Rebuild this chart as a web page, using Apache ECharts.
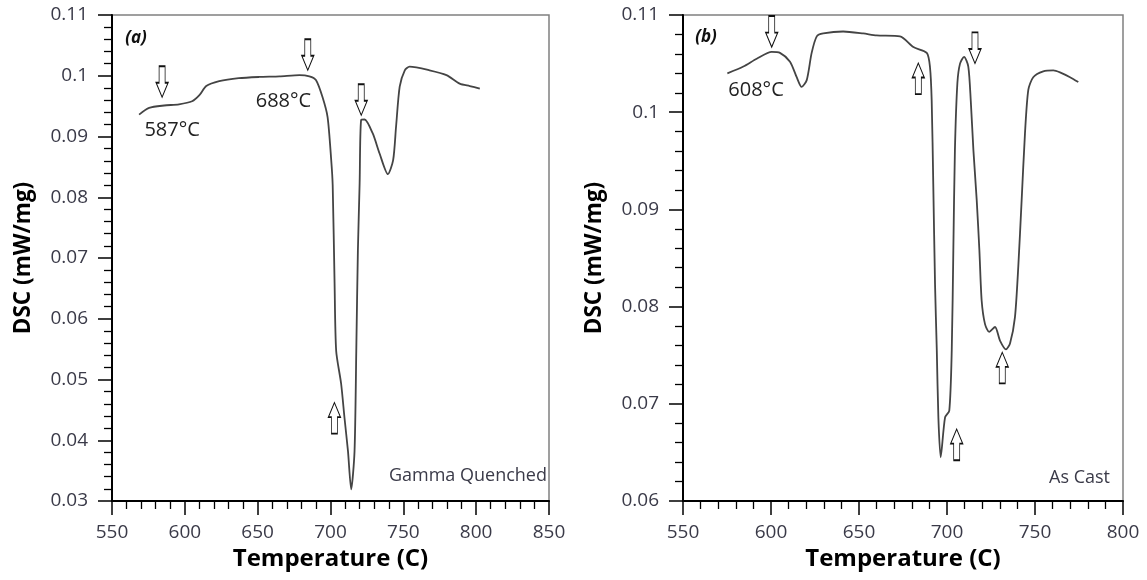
<!DOCTYPE html>
<html>
<head>
<meta charset="utf-8">
<script src="https://cdn.jsdelivr.net/npm/echarts@6/dist/echarts.min.js"></script>
<style>html,body{margin:0;padding:0;background:#fff;}#c{width:1147px;height:580px;}</style>
</head>
<body>
<div id="c"></div>
<script>
// Panel (a) Gamma Quenched
var tempA = [568.6, 575.5, 585.8, 596, 605, 610, 614.7, 623.6, 637, 651, 665, 678.7, 685.5, 690, 694.5, 698, 700.5, 701.5, 702.8, 703.9, 707.3, 709.6, 712, 714.2, 716.5, 717.7, 718.8, 720, 721, 723.4, 729, 733.7, 739.4, 743, 745, 747.5, 751, 754.3, 768, 779.6, 788.7, 795.6, 802.5];
var dscA = [0.0936, 0.0947, 0.0951, 0.0953, 0.0958, 0.0968, 0.0983, 0.0991, 0.0996, 0.0998, 0.0999, 0.1001, 0.0999, 0.0993, 0.0965, 0.0932, 0.0861, 0.082, 0.0658, 0.0547, 0.0493, 0.0437, 0.0382, 0.0319, 0.0382, 0.0547, 0.0712, 0.0823, 0.0927, 0.0928, 0.0905, 0.0872, 0.0838, 0.0861, 0.0916, 0.0982, 0.1009, 0.1015, 0.1009, 0.1001, 0.0987, 0.0983, 0.0979];
// Panel (b) As Cast
var tempB = [575.2, 584.3, 591.9, 600.4, 605.1, 610.8, 614.6, 617.4, 620.3, 623.1, 626, 629.7, 641, 652.4, 660, 673.3, 680.9, 688.5, 690.3, 691.3, 692.2, 693.2, 694.2, 695.1, 696.4, 698.9, 701.3, 702.7, 703.6, 704.5, 705.9, 707.4, 709.7, 712.1, 713.5, 715, 716.9, 718.4, 719.7, 721.6, 724, 727.3, 730.1, 733.5, 735.8, 738.6, 740.5, 742.4, 744.3, 746.2, 749, 754.7, 760.4, 764.2, 769.9, 774.6];
var dscB = [0.1040, 0.1047, 0.1055, 0.1062, 0.1061, 0.1052, 0.1036, 0.1026, 0.1033, 0.1061, 0.1078, 0.1081, 0.1083, 0.1081, 0.1079, 0.1078, 0.1067, 0.1061, 0.1047, 0.1012, 0.0926, 0.0823, 0.0755, 0.0686, 0.0645, 0.0686, 0.0693, 0.0755, 0.0858, 0.0961, 0.1030, 0.1050, 0.1057, 0.1047, 0.1012, 0.0961, 0.0909, 0.0858, 0.0806, 0.0782, 0.0774, 0.0779, 0.0765, 0.0756, 0.0762, 0.0789, 0.0841, 0.0909, 0.0978, 0.1023, 0.1036, 0.1042, 0.1043, 0.1041, 0.1036, 0.1031];

// Axis ranges / tick labels
var xTicksA = [550, 600, 650, 700, 750, 800, 850];
var yTicksA = [0.03, 0.04, 0.05, 0.06, 0.07, 0.08, 0.09, 0.1, 0.11];
var xTicksB = [550, 600, 650, 700, 750, 800];
var yTicksB = [0.06, 0.07, 0.08, 0.09, 0.1, 0.11];

// Annotations: [temperature, dsc, direction]
var arrowsA = [[584.4, 0.09647, 'down'], [684.4, 0.10092, 'down'], [721.1, 0.0935, 'down'], [702.7, 0.04619, 'up']];
var arrowsB = [[600.4, 0.1067, 'down'], [683.7, 0.10505, 'up'], [715.9, 0.10502, 'down'], [705.5, 0.06739, 'up'], [731.4, 0.07529, 'up']];
var textsA = [['587°C', 591.3, 0.09102], ['688°C', 667.7, 0.0958]];
var textsB = [['608°C', 591.5, 0.10227]];
var panelA = ['(a)', 566.5, 0.1062];
var panelB = ['(b)', 563.1, 0.10773];
var sampleA = ['Gamma Quenched', 848.6, 0.0341];
var sampleB = ['As Cast', 792.6, 0.06237];

var FONT = 'Open Sans';
var DOWN = 'path://M3,0 L9,0 L9,16 L12,16 L6,30 L0,16 L3,16 Z';
var UP = 'path://M6,0 L12,14 L9,14 L9,30 L3,30 L3,14 L0,14 Z';

function zip(xs, ys) { return xs.map(function (x, i) { return [x, ys[i]]; }); }

function arrowPoints(list) {
  return list.map(function (a) {
    var h = 31;
    return {
      coord: [a[0], a[1]],
      symbol: a[2] === 'down' ? DOWN : UP,
      symbolSize: [12, h],
      symbolOffset: [0, a[2] === 'down' ? -h / 2 : h / 2],
      itemStyle: { color: '#fff', borderColor: '#111', borderWidth: 1.2 },
      label: { show: false }
    };
  });
}
function textPoint(t, opts) {
  return {
    coord: [t[1], t[2]],
    symbol: 'circle',
    symbolSize: 0,
    itemStyle: { color: 'transparent' },
    label: Object.assign({
      show: true, position: 'inside', formatter: t[0],
      fontFamily: FONT, fontSize: 20, color: '#222'
    }, opts || {})
  };
}

function xAxisDef(idx, max) {
  return {
    type: 'value', gridIndex: idx, min: 550, max: max, interval: 50,
    name: 'Temperature (C)', nameLocation: 'middle', nameGap: 46,
    nameTextStyle: { fontFamily: FONT, fontSize: 24, fontWeight: 'bold', color: '#000' },
    axisLine: { show: true, onZero: false, lineStyle: { color: '#000', width: 2 } },
    axisTick: { show: true, inside: false, length: 14, lineStyle: { color: '#000', width: 1.5 } },
    minorTick: { show: true, splitNumber: 5, length: 8, lineStyle: { color: '#000', width: 1.3 } },
    axisLabel: { fontFamily: FONT, fontSize: 19, color: '#3a3a48', margin: 22 },
    splitLine: { show: false }, minorSplitLine: { show: false }
  };
}
function yAxisDef(idx, min) {
  return {
    type: 'value', gridIndex: idx, min: min, max: 0.11, interval: 0.01,
    name: 'DSC (mW/mg)', nameLocation: 'middle', nameGap: 77,
    nameTextStyle: { fontFamily: FONT, fontSize: 22.5, fontWeight: 'bold', color: '#000' },
    axisLine: { show: true, onZero: false, lineStyle: { color: '#000', width: 2 } },
    axisTick: { show: true, inside: false, length: 14, lineStyle: { color: '#000', width: 1.5 } },
    minorTick: { show: true, splitNumber: 5, length: 8, lineStyle: { color: '#000', width: 1.3 } },
    axisLabel: { fontFamily: FONT, fontSize: 19, color: '#3a3a48', margin: 24,
      formatter: function (v) { return String(Math.round(v * 1000) / 1000); } },
    splitLine: { show: false }, minorSplitLine: { show: false }
  };
}

var chart = echarts.init(document.getElementById('c'), null, { renderer: 'canvas' });
chart.setOption({
  animation: false,
  backgroundColor: '#fff',
  grid: [
    { left: 112, top: 15, width: 437, height: 486, show: true, borderColor: '#808080', borderWidth: 1.5, backgroundColor: '#fff' },
    { left: 683, top: 15, width: 440, height: 486, show: true, borderColor: '#808080', borderWidth: 1.5, backgroundColor: '#fff' }
  ],
  xAxis: [xAxisDef(0, 850), xAxisDef(1, 800)],
  yAxis: [yAxisDef(0, 0.03), yAxisDef(1, 0.06)],
  series: [
    {
      type: 'line', xAxisIndex: 0, yAxisIndex: 0, data: zip(tempA, dscA),
      showSymbol: false, smooth: 0.25, lineStyle: { color: '#444', width: 1.8 },
      markPoint: { silent: true, animation: false,
        data: arrowPoints(arrowsA)
          .concat(textsA.map(function (t) { return textPoint(t); }))
          .concat([textPoint(panelA, { fontStyle: 'italic', fontWeight: 'bold', fontSize: 17, color: '#111' }),
                   textPoint(sampleA, { fontSize: 18, color: '#3a3a48', align: 'right', position: 'left', distance: 0 })])
      }
    },
    {
      type: 'line', xAxisIndex: 1, yAxisIndex: 1, data: zip(tempB, dscB),
      showSymbol: false, smooth: 0.25, lineStyle: { color: '#444', width: 1.8 },
      markPoint: { silent: true, animation: false,
        data: arrowPoints(arrowsB)
          .concat(textsB.map(function (t) { return textPoint(t); }))
          .concat([textPoint(panelB, { fontStyle: 'italic', fontWeight: 'bold', fontSize: 17, color: '#111' }),
                   textPoint(sampleB, { fontSize: 18, color: '#3a3a48', align: 'right', position: 'left', distance: 0 })])
      }
    }
  ]
});
</script>
</body>
</html>
